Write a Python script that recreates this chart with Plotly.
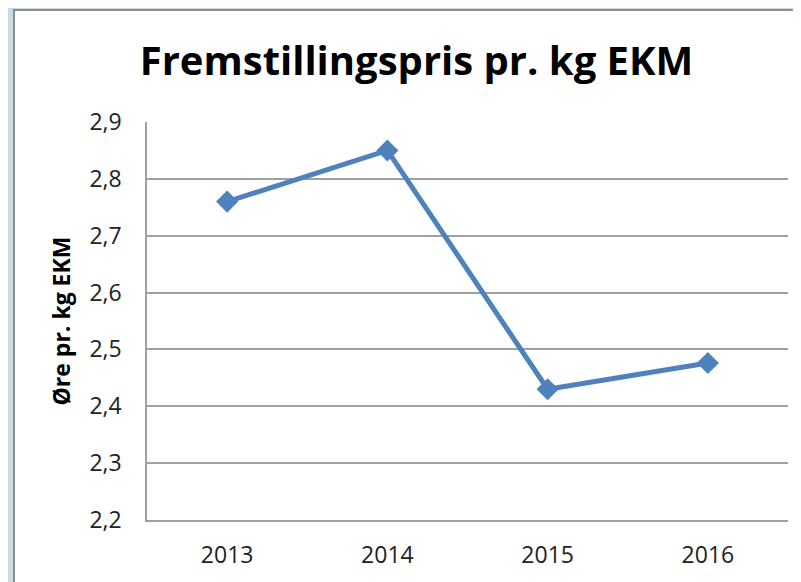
import plotly.graph_objects as go

# data
years = ["2013", "2014", "2015", "2016"]
price = [2.76, 2.85, 2.43, 2.476]
y_ticks = [2.2, 2.3, 2.4, 2.5, 2.6, 2.7, 2.8, 2.9]
y_labels = ["2,2", "2,3", "2,4", "2,5", "2,6", "2,7", "2,8", "2,9"]

blue = "#4F81BD"
grid = "#A0A0A0"

fig = go.Figure()
fig.add_trace(go.Scatter(
    x=years, y=price, mode="lines+markers",
    line=dict(color=blue, width=5),
    marker=dict(symbol="diamond", size=17, color=blue),
    showlegend=False,
))

# white chart frame on the light-blue background
fig.add_shape(type="rect", xref="paper", yref="paper",
              x0=-0.2075, x1=1.2, y0=-0.3, y1=1.2814,
              line=dict(color="#8C8C8C", width=2), fillcolor="white", layer="below")

fig.update_layout(
    width=801, height=582,
    margin=dict(l=139, r=21, t=114, b=70),
    paper_bgcolor="#C9DBE5",
    plot_bgcolor="rgba(0,0,0,0)",
    font=dict(family="Open Sans", color="#222222"),
    title=dict(text="<b>Fremstillingspris pr. kg EKM</b>",
               x=0.51, xanchor="center", xref="container",
               y=1 - 53 / 582, yanchor="middle", yref="container",
               font=dict(family="Open Sans", size=40, color="black")),
)
fig.update_xaxes(
    type="category", range=[-0.5, 3.5],
    showgrid=False, showline=True, linecolor=grid, linewidth=1.5, zeroline=False,
    tickfont=dict(size=23), ticks="", ticklabelstandoff=14,
)
fig.update_yaxes(
    range=[2.2, 2.9], tickvals=y_ticks, ticktext=y_labels,
    showgrid=True, gridcolor=grid, gridwidth=1.5,
    showline=True, linecolor=grid, linewidth=1.5,
    zeroline=False, ticks="", ticklabelstandoff=19,
    tickfont=dict(size=23),
    title=dict(text="<b>Øre pr. kg EKM</b>", font=dict(size=23, color="black"), standoff=12),
)

fig.write_html("out.html")
